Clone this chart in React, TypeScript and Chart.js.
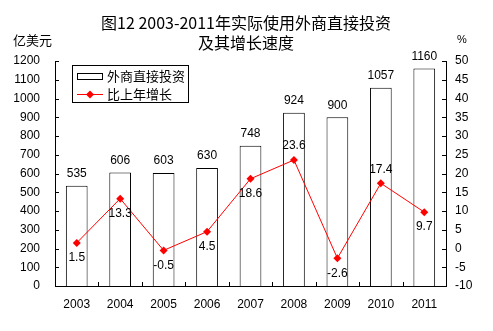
import React, { useEffect, useRef } from 'react';
import { Chart, registerables } from 'chart.js';

Chart.register(...registerables);

const years = ['2003', '2004', '2005', '2006', '2007', '2008', '2009', '2010', '2011'];
const investment = [535, 606, 603, 630, 748, 924, 900, 1057, 1160];
const growth = [1.5, 13.3, -0.5, 4.5, 18.6, 23.6, -2.6, 17.4, 9.7];
const growthLabelSide = ['below', 'below', 'below', 'below', 'below', 'above', 'below', 'above', 'below'];
const titleLines = ['图12 2003-2011年实际使用外商直接投资', '及其增长速度'];
const leftUnit = '亿美元';
const rightUnit = '%';
const legendLabels = ['外商直接投资', '比上年增长'];

const NUM_FONT = '12px "Liberation Sans", Arial, sans-serif';
const CJK = '"Noto Sans CJK SC", sans-serif';

const decor = {
  id: 'decor',
  afterDatasetsDraw(chart: any) {
    const ctx = chart.ctx;
    ctx.save();
    ctx.font = NUM_FONT;
    ctx.fillStyle = '#000';
    ctx.textAlign = 'center';
    ctx.textBaseline = 'middle';
    const barMeta = chart.getDatasetMeta(0);
    barMeta.data.forEach((el: any, i: number) => {
      ctx.fillText(String(investment[i]), el.x, el.y - 12);
    });
    const lineMeta = chart.getDatasetMeta(1);
    lineMeta.data.forEach((el: any, i: number) => {
      const dy = growthLabelSide[i] === 'above' ? -14 : 15;
      ctx.fillText(String(growth[i]), el.x, el.y + dy);
    });
    ctx.restore();
  },
  afterDraw(chart: any) {
    const ctx = chart.ctx;
    const area = chart.chartArea;
    const ys = chart.scales.y;
    const y1 = chart.scales.y1;
    const xs = chart.scales.x;
    ctx.save();
    ctx.strokeStyle = '#000';
    ctx.lineWidth = 1;
    ctx.beginPath();
    ys.ticks.forEach((t: any) => {
      const py = Math.round(ys.getPixelForValue(t.value)) + 0.5;
      ctx.moveTo(Math.round(area.left), py);
      ctx.lineTo(Math.round(area.left) + 4, py);
    });
    y1.ticks.forEach((t: any) => {
      const py = Math.round(y1.getPixelForValue(t.value)) + 0.5;
      ctx.moveTo(Math.round(area.right), py);
      ctx.lineTo(Math.round(area.right) - 4, py);
    });
    const n = years.length;
    const cw = (xs.right - xs.left) / n;
    for (let i = 1; i < n; i++) {
      const px = Math.round(xs.left + i * cw) + 0.5;
      ctx.moveTo(px, Math.round(area.bottom));
      ctx.lineTo(px, Math.round(area.bottom) - 4);
    }
    ctx.stroke();

    ctx.fillStyle = '#000';
    ctx.textAlign = 'center';
    ctx.textBaseline = 'middle';
    ctx.font = '16px ' + CJK;
    ctx.fillText(titleLines[0], 246, 23);
    ctx.fillText(titleLines[1], 246, 43);

    ctx.font = '13px ' + CJK;
    ctx.textAlign = 'left';
    ctx.fillText(leftUnit, 13, 40);
    ctx.font = '11px "Liberation Sans", Arial, sans-serif';
    ctx.fillText(rightUnit, 457, 40);

    ctx.fillStyle = '#fff';
    ctx.fillRect(72, 65, 116, 37);
    ctx.strokeStyle = '#000';
    ctx.strokeRect(72.5, 65.5, 116, 37);
    ctx.strokeRect(77.5, 73.5, 25, 6);
    ctx.strokeStyle = '#ff0000';
    ctx.beginPath();
    ctx.moveTo(77, 94.5);
    ctx.lineTo(103, 94.5);
    ctx.stroke();
    ctx.fillStyle = '#ff0000';
    ctx.beginPath();
    ctx.moveTo(90, 90.5);
    ctx.lineTo(94, 94.5);
    ctx.lineTo(90, 98.5);
    ctx.lineTo(86, 94.5);
    ctx.closePath();
    ctx.fill();
    ctx.fillStyle = '#000';
    ctx.font = '13px ' + CJK;
    ctx.textBaseline = 'middle';
    ctx.fillText(legendLabels[0], 107, 76);
    ctx.fillText(legendLabels[1], 107, 94);
    ctx.restore();
  },
};

const tickFont = { family: '"Liberation Sans", Arial, sans-serif', size: 12 };

export default function App() {
  const ref = useRef<HTMLCanvasElement | null>(null);
  useEffect(() => {
    if (!ref.current) return;
    const chart = new Chart(ref.current, {
      type: 'bar',
      data: {
        labels: years,
        datasets: [
          {
            type: 'bar',
            label: legendLabels[0],
            data: investment,
            backgroundColor: '#ffffff',
            borderColor: '#000000',
            borderWidth: 1,
            barPercentage: 0.5,
            categoryPercentage: 1,
            yAxisID: 'y',
            order: 1,
          },
          {
            type: 'line',
            label: legendLabels[1],
            data: growth,
            borderColor: '#ff0000',
            backgroundColor: '#ff0000',
            borderWidth: 1,
            pointStyle: 'rectRot',
            pointRadius: 4,
            pointBorderWidth: 0,
            tension: 0,
            yAxisID: 'y1',
            order: 0,
          },
        ],
      },
      options: {
        responsive: false,
        animation: false,
        layout: { padding: { top: 61, left: 0, right: 0, bottom: 0 } },
        plugins: { legend: { display: false }, title: { display: false }, tooltip: { enabled: false } },
        scales: {
          x: {
            type: 'category',
            offset: true,
            grid: { display: false, drawTicks: false },
            border: { display: true, color: '#000', width: 1 },
            ticks: { color: '#000', font: tickFont, padding: 11, maxRotation: 0 },
            afterFit: (s: any) => { s.height = 45; },
          },
          y: {
            position: 'left',
            min: 0,
            max: 1200,
            grid: { display: false, drawTicks: false },
            border: { display: true, color: '#000', width: 1 },
            ticks: { stepSize: 100, color: '#000', font: tickFont, padding: 15, callback: (v: any) => String(v) },
            afterFit: (s: any) => { s.width = 55; },
          },
          y1: {
            position: 'right',
            min: -10,
            max: 50,
            grid: { display: false, drawTicks: false },
            border: { display: true, color: '#000', width: 1 },
            ticks: { stepSize: 5, color: '#000', font: tickFont, padding: 9, callback: (v: any) => String(v) },
            afterFit: (s: any) => { s.width = 47; },
          },
        },
      },
      plugins: [decor],
    } as any);
    return () => chart.destroy();
  }, []);
  return (
    <div style={{ position: 'absolute', left: 0, top: 0, width: 493, height: 331 }}>
      <canvas ref={ref} width={493} height={331} style={{ display: 'block' }} />
    </div>
  );
}
